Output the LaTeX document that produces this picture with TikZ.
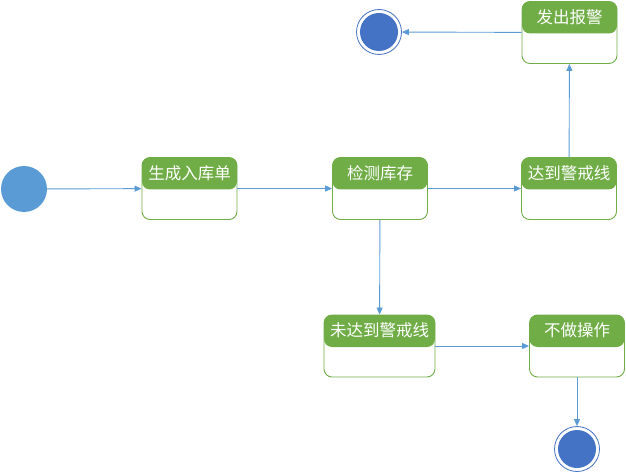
\documentclass[tikz,border=0pt]{standalone}
\usepackage{fontspec}
\newfontfamily\cjk{Noto Sans CJK SC}
\usetikzlibrary{arrows.meta}
\definecolor{hdrgreen}{HTML}{70AD47}
\definecolor{flowblue}{HTML}{5B9BD5}
\definecolor{endblue}{HTML}{4472C4}
\tikzset{
  statebox/.style={draw=hdrgreen, line width=0.9pt, rounded corners=8pt, fill=white,
    minimum width=#1, minimum height=62pt, inner sep=0pt,
    path picture={\fill[hdrgreen] (path picture bounding box.north west)
      rectangle ([yshift=-32pt]path picture bounding box.north east);}},
  statebox/.default=95pt,
  title/.style={text=white, font=\cjk\fontsize{16.5}{17}\selectfont, inner sep=0pt, anchor=center},
  flow/.style={draw=flowblue, line width=0.9pt, -{Triangle[length=7pt,width=6pt]}},
  startdot/.style={circle, fill=flowblue, minimum size=46pt, inner sep=0pt},
  enddot/.style={circle, draw=endblue, line width=0.8pt, fill=white, minimum size=45pt, inner sep=0pt,
    path picture={\fill[endblue] (path picture bounding box.center) circle (19pt);}}
}
\begin{document}
\begin{tikzpicture}[x=1pt, y=-1pt]
\useasboundingbox (0,0) rectangle (626,473);

% states
\node[statebox] (gen) at (189.5,188.5) {};
\node[title] at ([yshift=-16pt]gen.north) {生成入库单};
\node[statebox] (chk) at (380,188.5) {};
\node[title] at ([yshift=-16pt]chk.north) {检测库存};
\node[statebox] (reach) at (569,188.5) {};
\node[title] at ([yshift=-16pt]reach.north) {达到警戒线};
\node[statebox] (alarm) at (569.5,32.5) {};
\node[title] at ([yshift=-16pt]alarm.north) {发出报警};
\node[statebox=111pt] (below) at (379.5,346) {};
\node[title] at ([yshift=-16pt]below.north) {未达到警戒线};
\node[statebox] (noop) at (577,346) {};
\node[title] at ([yshift=-16pt]noop.north) {不做操作};

% initial and final states
\node[startdot] (init) at (24,189) {};
\node[enddot] (endtop) at (379,32) {};
\node[enddot] (endbot) at (577,449) {};

% transitions
\draw[flow] (init) -- (gen);
\draw[flow] (gen) -- (chk);
\draw[flow] (chk) -- (reach);
\draw[flow] (reach) -- (alarm);
\draw[flow] (alarm) -- (endtop);
\draw[flow] (chk) -- (below);
\draw[flow] (below) -- (noop);
\draw[flow] (noop) -- (endbot);
\end{tikzpicture}
\end{document}
